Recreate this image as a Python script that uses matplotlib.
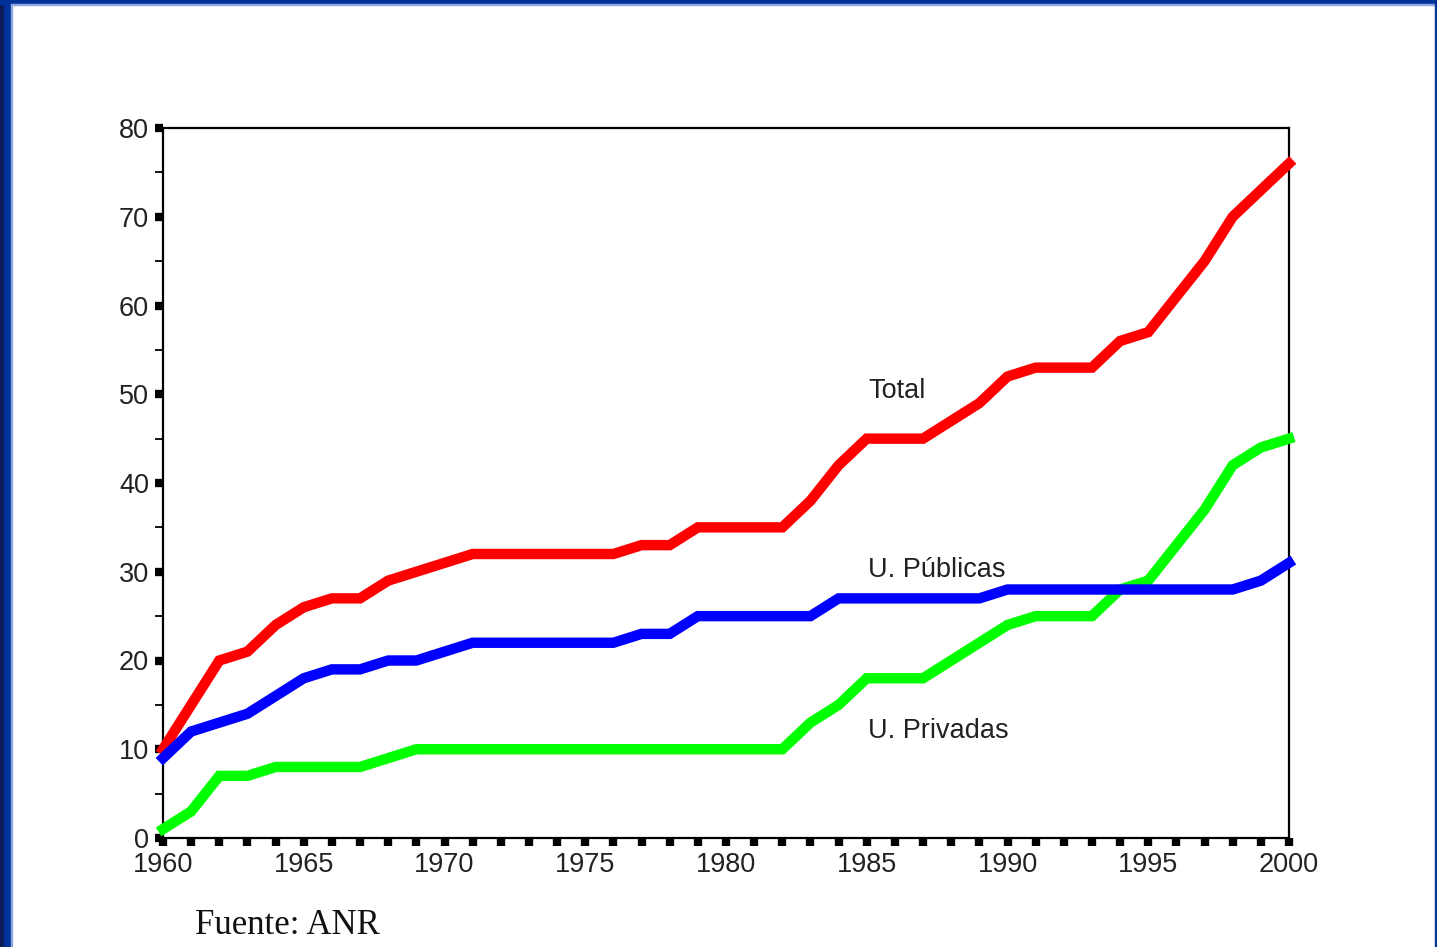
import matplotlib
matplotlib.use("Agg")
import matplotlib.pyplot as plt
from matplotlib.patches import Rectangle

years = list(range(1960, 2001))
total = [10, 15, 20, 21, 24, 26, 27, 27, 29, 30, 31, 32, 32, 32, 32, 32, 32, 33, 33, 35,
         35, 35, 35, 38, 42, 45, 45, 45, 47, 49, 52, 53, 53, 53, 56, 57, 61, 65, 70, 73, 76]
publicas = [9, 12, 13, 14, 16, 18, 19, 19, 20, 20, 21, 22, 22, 22, 22, 22, 22, 23, 23, 25,
            25, 25, 25, 25, 27, 27, 27, 27, 27, 27, 28, 28, 28, 28, 28, 28, 28, 28, 28, 29, 31]
privadas = [1, 3, 7, 7, 8, 8, 8, 8, 9, 10, 10, 10, 10, 10, 10, 10, 10, 10, 10, 10,
            10, 10, 10, 13, 15, 18, 18, 18, 20, 22, 24, 25, 25, 25, 28, 29, 33, 37, 42, 44, 45]
ytick_vals = [0, 10, 20, 30, 40, 50, 60, 70, 80]
xlabel_years = [1960, 1965, 1970, 1975, 1980, 1985, 1990, 1995, 2000]

W, H = 1437, 947
fig = plt.figure(figsize=(W / 100, H / 100), dpi=100)
fig.patch.set_facecolor("white")

# frame borders
def frect(x, y, w, h, c):
    fig.patches.append(Rectangle((x / W, 1 - (y + h) / H), w / W, h / H,
                                 transform=fig.transFigure, color=c, zorder=0))

frect(0, 0, 11, H, "#003399")
frect(0, 0, 3, H, "#0b1d5a")
frect(0, 0, W, 4, "#003399")
frect(11, 4, 1, H - 4, "#8fa8e0")
frect(11, 4, W - 13, 1, "#8fa8e0")
frect(W - 2, 0, 2, H, "#003399")

ax = fig.add_axes([163 / W, 1 - 838 / H, (1289 - 163) / W, (838 - 128) / H])
ax.set_xlim(1960, 2000)
ax.set_ylim(0, 80)

lw = 7.5
ax.plot(years, total, color="#ff0000", lw=lw, solid_joinstyle="miter", zorder=3, clip_on=False)
ax.plot(years, privadas, color="#00ff00", lw=lw, solid_joinstyle="miter", zorder=3, clip_on=False)
ax.plot(years, publicas, color="#0000ff", lw=lw, solid_joinstyle="miter", zorder=4, clip_on=False)

for s in ax.spines.values():
    s.set_linewidth(1.6)
    s.set_color("black")

ax.set_yticks(ytick_vals)
ax.set_yticks([5, 15, 25, 35, 45, 55, 65, 75], minor=True)
ax.set_xticks(years)
ax.set_xticklabels([str(y) if y in xlabel_years else "" for y in years])
ax.tick_params(axis="y", which="major", direction="out", length=6, width=6, pad=4,
               labelsize=19.5, labelcolor="#222222")
ax.tick_params(axis="y", which="minor", direction="out", length=6, width=1.3)
ax.tick_params(axis="x", which="major", direction="out", length=6, width=6, pad=4,
               labelsize=19.5, labelcolor="#222222")
for lab in ax.get_xticklabels() + ax.get_yticklabels():
    lab.set_fontfamily("Liberation Sans")

txt_kw = dict(fontsize=19.5, family="Liberation Sans", color="#222222", va="center", ha="left")
ax.text(1985.05, 50.4, "Total", **txt_kw)
ax.text(1985.05, 30.2, "U. Públicas", **txt_kw)
ax.text(1985.05, 12.0, "U. Privadas", **txt_kw)

fig.text(195 / W, 1 - 925 / H, "Fuente: ANR", fontsize=25, family="Liberation Serif",
         color="#111111", ha="left", va="center")

fig.savefig("out.png", dpi=100)
